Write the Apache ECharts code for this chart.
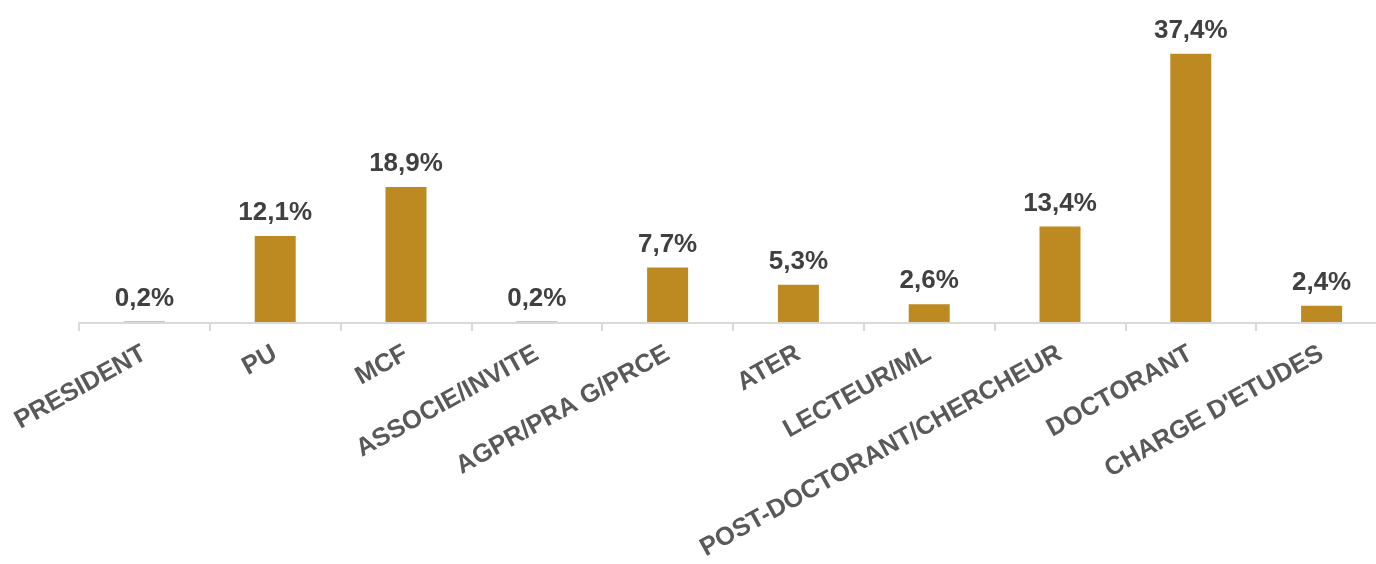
<!DOCTYPE html>
<html>
<head>
<meta charset="utf-8">
<script src="https://cdn.jsdelivr.net/npm/echarts@6/dist/echarts.min.js"></script>
<style>
html,body{margin:0;padding:0;background:#fff;overflow:hidden;}
#chart{width:1392px;height:564px;}
</style>
</head>
<body>
<div id="chart"></div>
<script>
const categories = ["PRESIDENT","PU","MCF","ASSOCIE/INVITE","AGPR/PRA G/PRCE","ATER","LECTEUR/ML","POST-DOCTORANT/CHERCHEUR","DOCTORANT","CHARGE D'ETUDES"];
const values = [0.2, 12.1, 18.9, 0.2, 7.7, 5.3, 2.6, 13.4, 37.4, 2.4];

const chart = echarts.init(document.getElementById('chart'));
chart.setOption({
  animation: false,
  backgroundColor: '#ffffff',
  grid: { left: 79, width: 1308, top: 35, height: 288 },
  xAxis: {
    type: 'category',
    data: categories,
    z: 5,
    axisLine: { show: true, lineStyle: { color: '#d9d9d9', width: 2 } },
    axisTick: { show: true, length: 8, lineStyle: { color: '#d9d9d9', width: 2 } },
    axisLabel: {
      rotate: 29,
      margin: 29,
      interval: 0,
      fontFamily: 'Liberation Sans, Arial, sans-serif',
      fontWeight: 'bold',
      fontSize: 25.5,
      color: '#595959'
    }
  },
  yAxis: {
    type: 'value',
    min: 0,
    max: 40,
    show: false,
    splitLine: { show: false }
  },
  series: [{
    type: 'bar',
    data: values,
    barWidth: 41,
    itemStyle: { color: '#BD8A22' },
    label: {
      show: true,
      position: 'top',
      distance: 10,
      fontFamily: 'Liberation Sans, Arial, sans-serif',
      fontWeight: 'bold',
      fontSize: 26,
      color: '#404040',
      formatter: p => p.value.toFixed(1).replace('.', ',') + '%'
    }
  }]
});
</script>
</body>
</html>
